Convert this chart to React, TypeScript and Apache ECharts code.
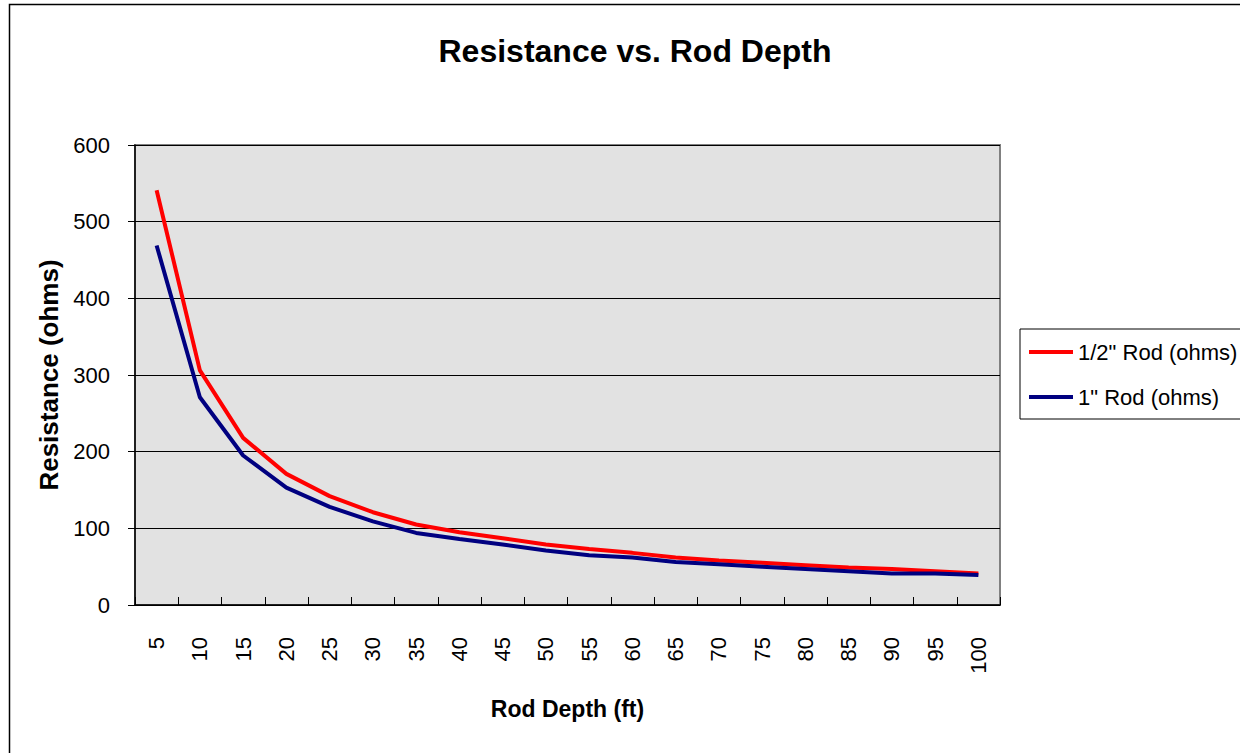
import React, { useEffect, useRef } from "react";
import * as echarts from "echarts";

const depths = ["5", "10", "15", "20", "25", "30", "35", "40", "45", "50", "55", "60", "65", "70", "75", "80", "85", "90", "95", "100"];
const halfInchRod = [541, 306, 218, 171, 142, 121, 105, 95, 87, 79, 73, 68, 62, 58, 55, 52, 49, 47, 44, 41];
const oneInchRod = [469, 271, 195, 153, 128, 109, 94, 86, 79, 71, 65, 62, 56, 53, 50, 47, 44, 41, 41, 39];
const seriesNames = ["1/2\" Rod (ohms)", "1\" Rod (ohms)"];

const FONT = "'Liberation Sans', Arial, sans-serif";

export default function App() {
  const ref = useRef<HTMLDivElement>(null);
  useEffect(() => {
    if (!ref.current) return;
    const chart = echarts.init(ref.current, null, { renderer: "svg" });
    chart.setOption({
      animation: false,
      backgroundColor: "#ffffff",
      textStyle: { fontFamily: FONT, color: "#000" },
      title: {
        text: "Resistance vs. Rod Depth",
        left: 635,
        top: 35,
        padding: 0,
        textAlign: "center",
        textStyle: { fontFamily: FONT, fontSize: 32, fontWeight: "bold", color: "#000" },
      },
      graphic: [
        {
          type: "rect",
          shape: { x: 9.5, y: 4.5, width: 1400, height: 1000 },
          style: { fill: "none", stroke: "#000", lineWidth: 1.5 },
          z: 100,
        },
      ],
      legend: {
        orient: "vertical",
        left: 1020,
        top: 329,
        padding: [12, 30, 11, 9],
        itemGap: 23,
        itemWidth: 44,
        itemHeight: 4,
        icon: "rect",
        borderColor: "#000",
        borderWidth: 1,
        backgroundColor: "#fff",
        textStyle: { fontFamily: FONT, fontSize: 22, color: "#000" },
        data: seriesNames,
      },
      grid: {
        left: 135,
        top: 145,
        width: 865,
        height: 460,
        show: true,
        backgroundColor: "#e2e2e2",
        borderColor: "#808080",
        borderWidth: 2,
        containLabel: false,
      },
      xAxis: {
        type: "category",
        data: depths,
        boundaryGap: true,
        name: "Rod Depth (ft)",
        nameLocation: "middle",
        nameGap: 92,
        nameTextStyle: { fontFamily: FONT, fontSize: 23, fontWeight: "bold", color: "#000" },
        axisLine: { show: true, lineStyle: { color: "#000", width: 1.5 } },
        axisTick: { show: true, inside: true, length: 8, lineStyle: { color: "#000" } },
        axisLabel: { rotate: 90, margin: 32, fontFamily: FONT, fontSize: 22, color: "#000", interval: 0 },
        splitLine: { show: false },
      },
      yAxis: {
        type: "value",
        min: 0,
        max: 600,
        interval: 100,
        name: "Resistance (ohms)",
        nameLocation: "middle",
        nameGap: 71,
        nameTextStyle: { fontFamily: FONT, fontSize: 26, fontWeight: "bold", color: "#000" },
        axisLine: { show: true, lineStyle: { color: "#000", width: 1.5 } },
        axisTick: { show: true, inside: false, length: 7, lineStyle: { color: "#000" } },
        axisLabel: { margin: 25, fontFamily: FONT, fontSize: 22, color: "#000" },
        splitLine: { show: true, lineStyle: { color: "#000", width: 1 } },
      },
      series: [
        {
          name: seriesNames[0],
          type: "line",
          data: halfInchRod,
          showSymbol: false,
          symbol: "none",
          lineStyle: { color: "#ff0000", width: 4 },
          itemStyle: { color: "#ff0000" },
          z: 3,
        },
        {
          name: seriesNames[1],
          type: "line",
          data: oneInchRod,
          showSymbol: false,
          symbol: "none",
          lineStyle: { color: "#000080", width: 4 },
          itemStyle: { color: "#000080" },
          z: 3,
        },
      ],
    });
    return () => chart.dispose();
  }, []);
  return (
    <div
      ref={ref}
      style={{ position: "fixed", left: 0, top: 0, width: 1240, height: 753 }}
    />
  );
}
